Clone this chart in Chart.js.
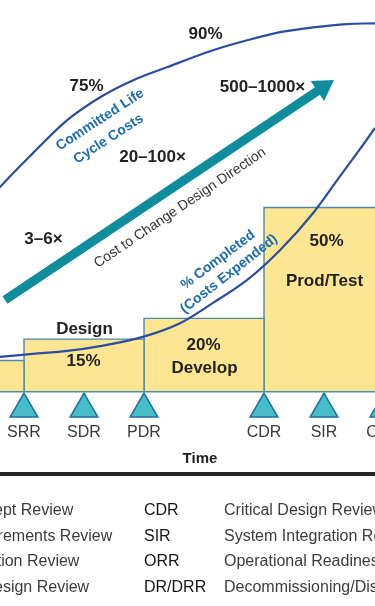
<!DOCTYPE html>
<html>
<head>
<meta charset="utf-8">
<script src="https://cdn.jsdelivr.net/npm/chart.js@4.4.1/dist/chart.umd.min.js"></script>
<style>
html,body{margin:0;padding:0;background:#fff;width:375px;height:606px;overflow:hidden;}
#wrap{position:relative;width:375px;height:606px;overflow:hidden;}
#c{position:absolute;left:0;top:0;}
.rule{position:absolute;left:0;top:472px;width:375px;height:4px;background:#262626;}
.leg{position:absolute;font:16px "Liberation Sans",Arial,sans-serif;line-height:20px;white-space:nowrap;color:#3c3c3c;}
.abbr{color:#151515;}
</style>
</head>
<body>
<div id="wrap">
  <canvas id="c" width="375" height="606"></canvas>
  <div class="rule"></div>
  <div id="legend"></div>
</div>
<script>
// ---------------- DATA ----------------
const milestoneNames = ['SRR', 'SDR', 'PDR', 'CDR', 'SIR', 'ORR'];
const milestoneTimes = [1, 2, 3, 5, 6, 7];

const phaseNames   = ['Concept', 'Design', 'Develop', 'Prod/Test'];
const phaseStart   = [0, 1, 3, 5];
const phaseEnd     = [1, 3, 5, 7];
const phasePercent = [8.5, 14.3, 19.9, 49.9];

const committedTime = [0.4, 0.6, 1.15, 1.72, 2.27, 2.82, 3.38, 4.15, 4.72, 5.27, 5.82, 6.38, 6.85, 7.0];
const committedPct  = [51.5, 55.4, 64.6, 73.5, 79.7, 84.3, 87.8, 92.4, 95.1, 97.3, 98.6, 99.5, 99.7, 99.8];

const expendedTime = [0.4, 0.6, 1.15, 1.72, 2.27, 2.98, 3.6, 4.15, 4.72, 5.27, 5.82, 6.22, 6.55, 6.85, 7.0];
const expendedPct  = [9.2, 9.5, 10.3, 11.1, 12.4, 14.9, 18.6, 24.1, 30.3, 38.4, 48.4, 57.3, 64.6, 71.4, 75.0];

const reviewNamesLeft  = ['Mission Concept Review', 'System Requirements Review', 'System Definition Review', 'Preliminary Design Review'];
const reviewAbbrRight  = ['CDR', 'SIR', 'ORR', 'DR/DRR'];
const reviewNamesRight = ['Critical Design Review', 'System Integration Review', 'Operational Readiness Review', 'Decommissioning/Disposal Readiness Review'];

// ---------------- STYLE / LAYOUT ----------------
const FONT = '"Liberation Sans", Arial, sans-serif';
const BLUE_TXT = '#1c6db0';
const DARK = '#222222';
const markerLevel = -4.6;
const arrowSpec = { from: [0.683, 24.9], to: [6.167, 84.4], shaft: 9, head: 20, half: 12, color: '#0f8d9c' };

const annotations = [
  { text: '90%', t: 4.025, v: 96.7, font: 'bold 17px ' + FONT, color: DARK },
  { text: '75%', t: 2.042, v: 82.7, font: 'bold 17px ' + FONT, color: DARK },
  { text: '500–1000×', t: 4.975, v: 82.3, font: 'bold 17px ' + FONT, color: DARK },
  { text: '20–100×', t: 3.142, v: 63.4, font: 'bold 17px ' + FONT, color: DARK },
  { text: '3–6×', t: 1.325, v: 41.4, font: 'bold 17px ' + FONT, color: DARK },
  { text: 'Design', t: 2.008, v: 16.9, font: 'bold 17px ' + FONT, color: DARK },
  { text: '15%', t: 1.992, v: 8.2, font: 'bold 17px ' + FONT, color: DARK },
  { text: '20%', t: 3.992, v: 12.7, font: 'bold 17px ' + FONT, color: DARK },
  { text: 'Develop', t: 4.008, v: 6.5, font: 'bold 17px ' + FONT, color: DARK },
  { text: '50%', t: 6.042, v: 40.8, font: 'bold 17px ' + FONT, color: DARK },
  { text: 'Prod/Test', t: 6.008, v: 30.0, font: 'bold 17px ' + FONT, color: DARK },
  { text: 'Time', t: 3.933, v: -18.1, font: 'bold 15px ' + FONT, color: DARK },
  { text: 'Committed Life', t: 2.267, v: 73.6, rot: -33, font: 'bold 14px ' + FONT, color: BLUE_TXT },
  { text: 'Cycle Costs', t: 2.408, v: 68.4, rot: -33, font: 'bold 14px ' + FONT, color: BLUE_TXT },
  { text: 'Cost to Change Design Direction', t: 3.6, v: 49.8, rot: -34, font: '14px ' + FONT, color: '#333333' },
  { text: '% Completed', t: 4.233, v: 35.7, rot: -37, font: 'bold 14px ' + FONT, color: BLUE_TXT },
  { text: '(Costs Expended)', t: 4.417, v: 31.9, rot: -38, font: 'bold 14px ' + FONT, color: BLUE_TXT }
];

// ---------------- LEGEND (HTML text) ----------------
const rowCenters = [510, 536, 561, 587];
const legend = document.getElementById('legend');
function addText(txt, left, center, cls) {
  const d = document.createElement('div');
  d.className = 'leg' + (cls ? ' ' + cls : '');
  d.style.left = left + 'px';
  d.style.top = (center - 10) + 'px';
  d.textContent = txt;
  legend.appendChild(d);
}
reviewNamesLeft.forEach((n, i) => addText(n, -102, rowCenters[i]));
reviewAbbrRight.forEach((n, i) => addText(n, 144, rowCenters[i], 'abbr'));
reviewNamesRight.forEach((n, i) => addText(n, 224, rowCenters[i]));

// ---------------- CHART ----------------
const annotationPlugin = {
  id: 'annotations',
  afterDatasetsDraw(chart) {
    const { ctx, scales: { x, y } } = chart;
    ctx.save();
    const x0 = x.getPixelForValue(arrowSpec.from[0]), y0 = y.getPixelForValue(arrowSpec.from[1]);
    const x1 = x.getPixelForValue(arrowSpec.to[0]), y1 = y.getPixelForValue(arrowSpec.to[1]);
    const len = Math.hypot(x1 - x0, y1 - y0), ux = (x1 - x0) / len, uy = (y1 - y0) / len;
    const bx = x1 - ux * arrowSpec.head, by = y1 - uy * arrowSpec.head;
    ctx.strokeStyle = arrowSpec.color; ctx.fillStyle = arrowSpec.color;
    ctx.lineWidth = arrowSpec.shaft; ctx.lineCap = 'butt';
    ctx.beginPath(); ctx.moveTo(x0, y0); ctx.lineTo(bx + ux, by + uy); ctx.stroke();
    ctx.beginPath();
    ctx.moveTo(x1, y1);
    ctx.lineTo(bx - uy * arrowSpec.half, by + ux * arrowSpec.half);
    ctx.lineTo(bx + uy * arrowSpec.half, by - ux * arrowSpec.half);
    ctx.closePath(); ctx.fill();
    for (const a of annotations) {
      ctx.save();
      ctx.translate(x.getPixelForValue(a.t), y.getPixelForValue(a.v));
      ctx.rotate((a.rot || 0) * Math.PI / 180);
      ctx.font = a.font; ctx.fillStyle = a.color;
      ctx.textAlign = 'center'; ctx.textBaseline = 'middle';
      ctx.fillText(a.text, 0, 0);
      ctx.restore();
    }
    ctx.restore();
  }
};

const phaseDatasets = phaseNames.map((name, i) => ({
  type: 'line',
  label: name,
  data: [
    { x: phaseStart[i], y: 0 },
    { x: phaseStart[i], y: phasePercent[i] },
    { x: phaseEnd[i], y: phasePercent[i] },
    { x: phaseEnd[i], y: 0 }
  ],
  fill: 'origin',
  backgroundColor: '#fde692',
  borderColor: '#5088ad',
  borderWidth: 1.4,
  pointRadius: 0,
  tension: 0,
  order: 3
}));

new Chart(document.getElementById('c'), {
  type: 'line',
  data: {
    datasets: [
      {
        label: 'Milestones',
        data: milestoneTimes.map(t => ({ x: t, y: markerLevel })),
        showLine: false,
        pointStyle: 'triangle',
        pointRadius: 16,
        pointBackgroundColor: '#46bdc9',
        pointBorderColor: '#1e6fa3',
        pointBorderWidth: 1.5,
        clip: false,
        order: 0
      },
      {
        label: 'Committed Life Cycle Costs',
        data: committedTime.map((t, i) => ({ x: t, y: committedPct[i] })),
        borderColor: '#2c4d9f',
        borderWidth: 2.2,
        pointRadius: 0,
        fill: false,
        cubicInterpolationMode: 'monotone',
        order: 1
      },
      {
        label: '% Completed (Costs Expended)',
        data: expendedTime.map((t, i) => ({ x: t, y: expendedPct[i] })),
        borderColor: '#2c4d9f',
        borderWidth: 2.2,
        pointRadius: 0,
        fill: false,
        cubicInterpolationMode: 'monotone',
        order: 1
      },
      ...phaseDatasets
    ]
  },
  options: {
    responsive: false,
    devicePixelRatio: 1,
    animation: false,
    events: [],
    layout: { autoPadding: false, padding: { top: 0, left: 0, right: 0, bottom: 132 } },
    plugins: { legend: { display: false }, tooltip: { enabled: false } },
    scales: {
      x: {
        type: 'linear',
        min: 0.6,
        max: 6.85,
        grid: { display: false, drawTicks: false },
        border: { display: true, color: '#5088ad', width: 1.5, z: 1 },
        ticks: {
          padding: 31.4,
          autoSkip: false,
          maxRotation: 0,
          minRotation: 0,
          color: '#3a3a3a',
          font: { family: FONT, size: 16 },
          callback: (value, index) => milestoneNames[index]
        },
        afterBuildTicks: (scale) => { scale.ticks = milestoneTimes.map(v => ({ value: v })); },
        afterFit: (scale) => { scale.paddingLeft = 0; scale.paddingRight = 0; }
      },
      y: { display: false, min: 0, max: 106 }
    }
  },
  plugins: [annotationPlugin]
});
</script>
</body>
</html>
